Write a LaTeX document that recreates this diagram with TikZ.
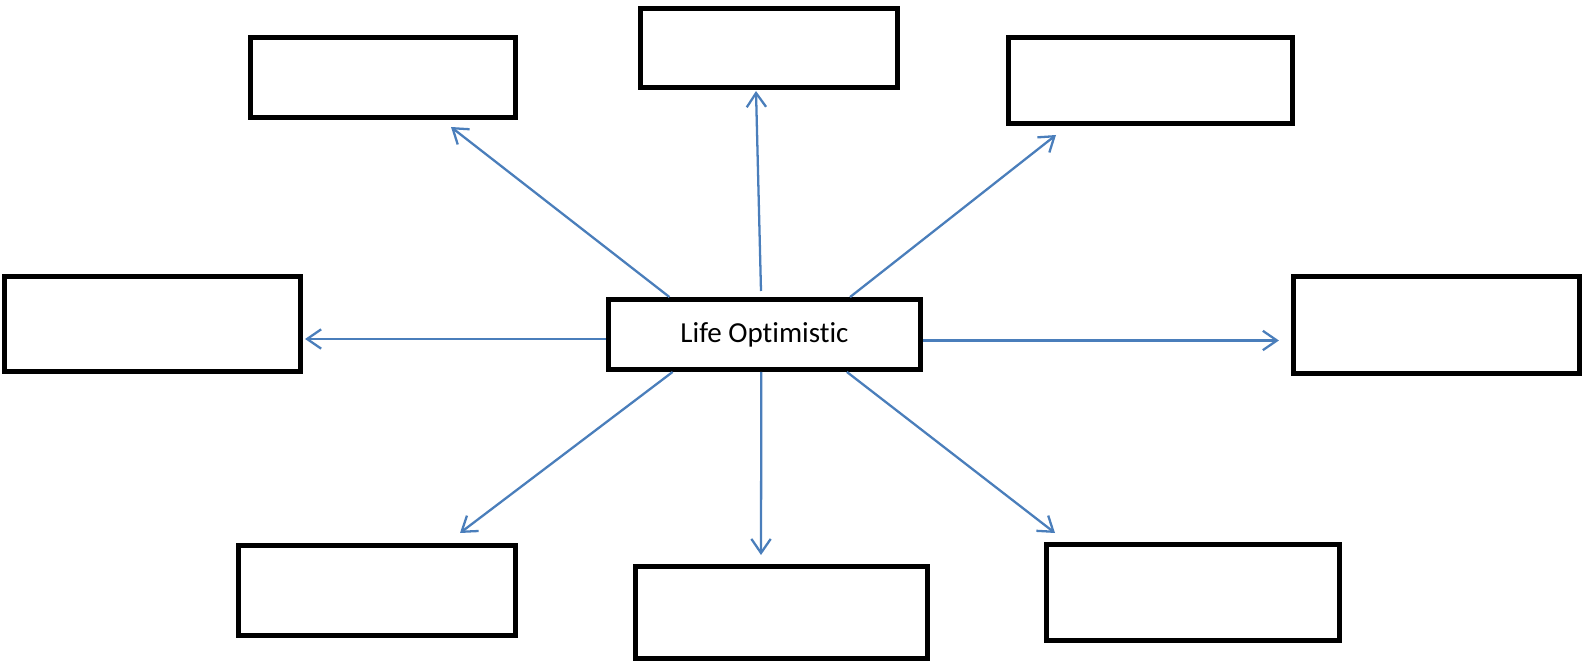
\documentclass[tikz,border=0pt]{standalone}
\usepackage{fontspec}
\setmainfont{Carlito}[Ligatures={NoCommon,NoRequired,NoContextual}]
\usetikzlibrary{arrows.meta,calc}
\definecolor{arrBlue}{RGB}{74,126,187}
\tikzset{
  emptyBox/.style={draw=black, line width=2.8pt, inner sep=0pt},
  spoke/.style={draw=arrBlue, line width=1.3pt,
    -{Straight Barb[length=8pt,width=11pt,line width=1.3pt]}}
}
\begin{document}
\begin{tikzpicture}[x=0.02cm,y=-0.02cm]
    \useasboundingbox (0,0) rectangle (1583,662);
    % centre box
    \node[emptyBox, minimum width=6.24cm, minimum height=1.4cm,
      font=\fontsize{16.5}{20}\selectfont] (cLife) at (764.5,334.5) {Life Optimistic};
    % outer boxes
    \node[emptyBox, minimum width=5.3cm, minimum height=1.6cm] (bTL) at (383,77.5) {};
    \node[emptyBox, minimum width=5.14cm, minimum height=1.58cm] (bTC) at (769,48) {};
    \node[emptyBox, minimum width=5.68cm, minimum height=1.72cm] (bTR) at (1150.5,80.5) {};
    \node[emptyBox, minimum width=5.92cm, minimum height=1.9cm] (bL) at (152.5,324) {};
    \node[emptyBox, minimum width=5.72cm, minimum height=1.94cm] (bR) at (1436.5,325) {};
    \node[emptyBox, minimum width=5.54cm, minimum height=1.8cm] (bBL) at (377,590.5) {};
    \node[emptyBox, minimum width=5.84cm, minimum height=1.84cm] (bBC) at (781.5,612.5) {};
    \node[emptyBox, minimum width=5.86cm, minimum height=1.92cm] (bBR) at (1193,592.5) {};
    % start points on the centre box
    \coordinate (sTL) at ($(cLife.north west)!0.2!(cLife.north east)$);
    \coordinate (sTC) at (761,291);
    \coordinate (sTR) at ($(cLife.north west)!0.77!(cLife.north east)$);
    \coordinate (sL) at ($(cLife.north west)!0.56!(cLife.south west)$);
    \coordinate (sR) at ($(cLife.north east)!0.58!(cLife.south east)$);
    \coordinate (sBL) at ($(cLife.south west)!0.21!(cLife.south east)$);
    \coordinate (sBC) at ($(cLife.south west)!0.49!(cLife.south east)$);
    \coordinate (sBR) at ($(cLife.south west)!0.76!(cLife.south east)$);
    % arrow tips
    \coordinate (tTL) at (451,127);
    \coordinate (tTC) at (756,91);
    \coordinate (tTR) at (1056,135);
    \path (sL) ++(-301,0) coordinate (tL);
    \path (sR) ++(356,0) coordinate (tR);
    \coordinate (tBL) at (460,533);
    \coordinate (tBC) at (761,555);
    \coordinate (tBR) at (1055,533);
\foreach \s/\t in
{sTL/tTL,
    sTC/tTC,
    sTR/tTR,
    sL/tL,
    sR/tR,
    sBL/tBL,
    sBC/tBC,
    sBR/tBR}
{
    \draw[spoke] (\s) -- (\t);
};

\end{tikzpicture}
\end{document}
